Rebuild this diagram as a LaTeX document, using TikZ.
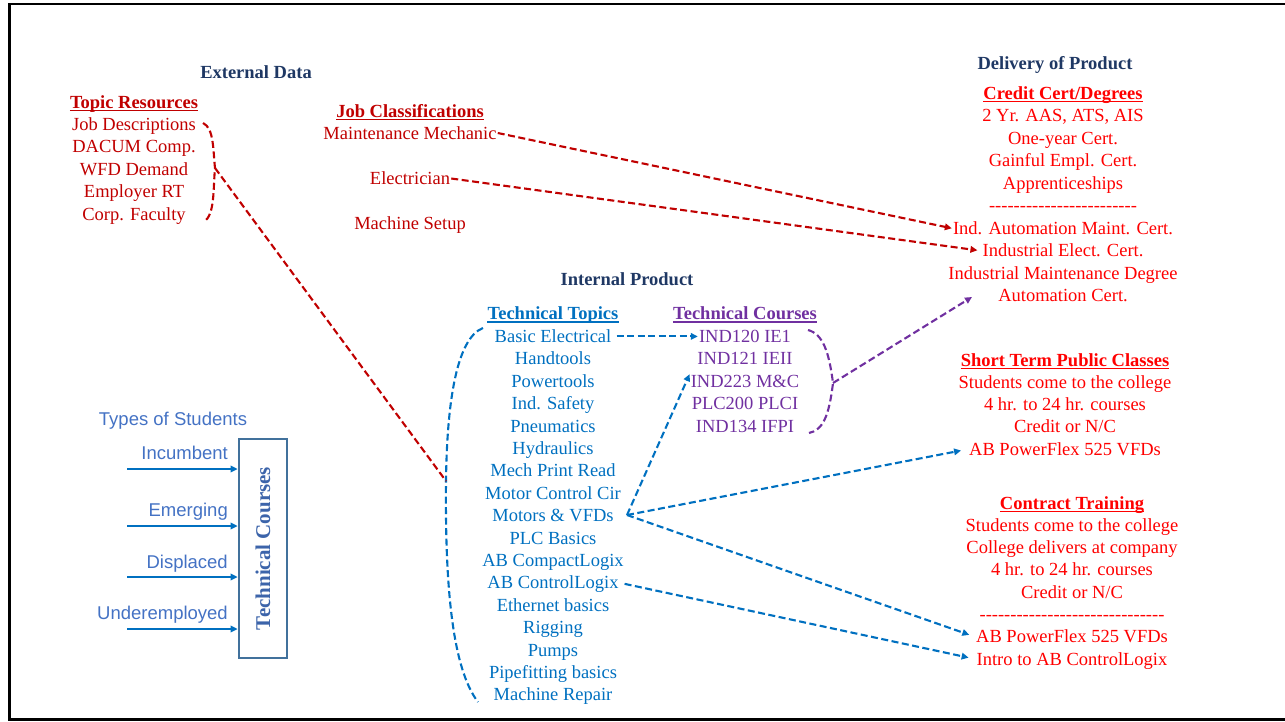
\documentclass[tikz,border=0pt]{standalone}
\usepackage{fontspec}
\setmainfont{Liberation Serif}
\setsansfont{Liberation Sans}
\usetikzlibrary{arrows.meta}
\definecolor{navy}{RGB}{31,56,100}
\definecolor{dred}{RGB}{192,0,0}
\definecolor{bred}{RGB}{255,0,0}
\definecolor{tblue}{RGB}{0,112,192}
\definecolor{tpurple}{RGB}{112,48,160}
\definecolor{sblue}{RGB}{68,114,196}
\definecolor{boxblue}{RGB}{65,113,156}
\definecolor{boxtext}{RGB}{60,100,170}
% a row of plain hyphens (kerns keep them from joining into dashes)
\ExplSyntaxOn
\NewDocumentCommand\hyphenrow{m}{\prg_replicate:nn{#1}{-\kern0pt}}
\ExplSyntaxOff
\begin{document}
\begin{tikzpicture}[x=1pt,y=-1pt,
  txt/.style={font=\fontsize{18.5pt}{22pt}\selectfont, inner sep=1pt, text height=14.5pt, text depth=2.5pt},
  hd/.style={txt, font=\fontsize{18.5pt}{22pt}\selectfont\bfseries, inner xsep=0pt},
  sans/.style={font=\fontsize{18.5pt}{22pt}\selectfont\sffamily, text=sblue, inner sep=1pt, text height=15pt, text depth=2pt},
  conn/.style={line width=2.1pt, dash pattern=on 7pt off 3.5pt},
  arrowtip/.style={-{Triangle[length=7pt,width=6.5pt]}},
]
\useasboundingbox (0,0) rectangle (1285,721);
% outer frame
\draw[line width=2.6pt] (1285,4) -- (9.5,4) -- (9.5,719.5) -- (1285,719.5);

% section titles
\node[hd, text=navy] (ext) at (256,72) {External Data};
\node[hd, text=navy] (int) at (627,279) {Internal Product};
\node[hd, text=navy] (del) at (1055,63) {Delivery of Product};

% topic resources
\node[hd, text=dred] (trh) at (134,102) {Topic Resources};
\foreach \s [count=\i] in {Job Descriptions, DACUM Comp., WFD Demand, Employer RT, Corp. Faculty}
  \node[txt, text=dred] (tr\i) at (134,{102+22.4*\i}) {\s};

% job classifications
\node[hd, text=dred] (jch) at (410,111) {Job Classifications};
\node[txt, text=dred] (jc1) at (410,133) {Maintenance Mechanic};
\node[txt, text=dred] (jc2) at (410,178.5) {Electrician};
\node[txt, text=dred] (jc3) at (410,223) {Machine Setup};

% credit certificates and degrees
\node[hd, text=bred] (crh) at (1063,93) {Credit Cert/Degrees};
\foreach \s [count=\i] in {{2 Yr. AAS, ATS, AIS}, One-year Cert., Gainful Empl. Cert., Apprenticeships, \hyphenrow{24}, Ind. Automation Maint. Cert., Industrial Elect. Cert., Industrial Maintenance Degree, Automation Cert.}
  \node[txt, text=bred] (cr\i) at (1063,{93+22.55*\i}) {\s};

% technical topics
\node[hd, text=tblue] (tth) at (553,313.5) {Technical Topics};
\foreach \s [count=\i] in {Basic Electrical, Handtools, Powertools, Ind. Safety, Pneumatics, Hydraulics, Mech Print Read, Motor Control Cir, Motors \& VFDs, PLC Basics, AB CompactLogix, AB ControlLogix, Ethernet basics, Rigging, Pumps, Pipefitting basics, Machine Repair}
  \node[txt, text=tblue] (tt\i) at (553,{314+22.4*\i}) {\s};

% technical courses
\node[hd, text=tpurple] (tch) at (745,313.5) {Technical Courses};
\foreach \s [count=\i] in {IND120 IE1, IND121 IEII, IND223 M\&C, PLC200 PLCI, IND134 IFPI}
  \node[txt, text=tpurple] (tc\i) at (745,{314+22.4*\i}) {\s};

% short term public classes
\node[hd, text=bred] (sth) at (1065,360) {Short Term Public Classes};
\foreach \s [count=\i] in {Students come to the college, 4 hr. to 24 hr. courses, Credit or N/C, AB PowerFlex 525 VFDs}
  \node[txt, text=bred] (st\i) at (1065,{360+22.3*\i}) {\s};

% contract training
\node[hd, text=bred] (cth) at (1072,503) {Contract Training};
\foreach \s [count=\i] in {Students come to the college, College delivers at company, 4 hr. to 24 hr. courses, Credit or N/C, \hyphenrow{30}, AB PowerFlex 525 VFDs, Intro to AB ControlLogix}
  \node[txt, text=bred] (ct\i) at (1072,{503+22.3*\i}) {\s};

% heading underlines
\foreach \h/\c in {trh/dred, jch/dred, crh/bred, sth/bred, cth/bred, tth/tblue, tch/tpurple}
  \draw[color=\c, line width=1.4pt] ([yshift=-2.5pt]\h.base west) -- ([yshift=-2.5pt]\h.base east);

% grouping brackets
\coordinate (rb) at (215,168);
\draw[conn, dred] (203,123) .. controls (214,128) and (213,150) .. (rb) .. controls (213,190) and (215,214) .. (204,222);
\coordinate (bb) at (446,481);
\draw[conn, tblue] (483,328) .. controls (457,338) and (447,400) .. (bb) .. controls (445,585) and (452,668) .. (478,702);
\coordinate (pb) at (833,383);
\draw[conn, tpurple] (808,330) .. controls (823,334) and (829,352) .. (pb) .. controls (829,416) and (823,430) .. (809,433);

% connectors
\draw[conn, dred] (rb) -- (bb);
\draw[conn, dred, arrowtip] (jc1.east) -- (cr6.west);
\draw[conn, dred, arrowtip, shorten >=4pt] (jc2.east) -- (cr7.west);
\coordinate (pa) at (972,297);
\draw[conn, tpurple, arrowtip] (pb) -- (pa);
\draw[conn, tblue, arrowtip, shorten <=4pt] (tt1.east) -- (tc1.west);
\coordinate (mv) at (627,515);
\draw[conn, tblue, arrowtip] (mv) -- ([yshift=7pt]tc3.west);
\draw[conn, tblue, arrowtip, shorten >=7pt] (mv) -- (st4.west);
\draw[conn, tblue, arrowtip, shorten >=6pt] (mv) -- (ct6.west);
\draw[conn, tblue, arrowtip, shorten <=5pt, shorten >=7pt] (tt12.east) -- (ct7.west);

% types of students
\node[sans] (types) at (173,419) {Types of Students};
\node[draw=boxblue, line width=2.7pt, minimum width=48pt, minimum height=219pt, inner sep=0pt,
      text=boxtext, font=\fontsize{21pt}{24pt}\selectfont\bfseries] (box) at (263,548.5) {\rotatebox{90}{Technical Courses}};
\foreach \s/\ly/\ay [count=\i] in {Incumbent/453/469, Emerging/510/526, Displaced/562/577, Underemployed/613/629} {
  \node[sans, anchor=east] (stu\i) at (229,\ly) {\s};
  \coordinate (sa\i) at (127,\ay);
  \draw[tblue, line width=2pt, arrowtip] (sa\i) -- (sa\i -| box.west);
}
\end{tikzpicture}
\end{document}
